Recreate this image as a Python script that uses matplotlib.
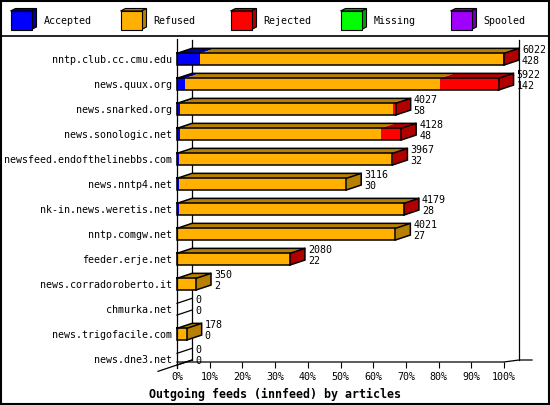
import matplotlib
matplotlib.use("Agg")
import matplotlib.pyplot as plt
from matplotlib.patches import Polygon, Rectangle
import numpy as np

# Data (articles per peer)
hosts = ["nntp.club.cc.cmu.edu", "news.quux.org", "news.snarked.org",
         "news.sonologic.net", "newsfeed.endofthelinebbs.com", "news.nntp4.net",
         "nk-in.news.weretis.net", "nntp.comgw.net", "feeder.erje.net",
         "news.corradoroberto.it", "chmurka.net", "news.trigofacile.com",
         "news.dne3.net"]
offered = [6022, 5922, 4027, 4128, 3967, 3116, 4179, 4021, 2080, 350, 0, 178, 0]
accepted = [428, 142, 58, 48, 32, 30, 28, 27, 22, 2, 0, 0, 0]
refused = [5582, 4700, 3922, 3703, 3926, 3086, 4144, 3994, 2053, 348, 0, 178, 0]
rejected = [12, 1080, 47, 377, 9, 0, 7, 0, 5, 0, 0, 0, 0]
missing = [0, 0, 0, 0, 0, 0, 0, 0, 0, 0, 0, 0, 0]
spooled = [0, 0, 0, 0, 0, 0, 0, 0, 0, 0, 0, 0, 0]

series = ["Accepted", "Refused", "Rejected", "Missing", "Spooled"]
front_colors = ["#0000ff", "#ffb000", "#ff0000", "#00ff00", "#a000ff"]
dark_colors = ["#0000a0", "#b88000", "#b00000", "#00a000", "#7000b0"]
pct_ticks = list(range(0, 101, 10))
title = "Outgoing feeds (innfeed) by articles"

W, H = 550, 405
plt.rcParams["font.family"] = "DejaVu Sans Mono"
plt.rcParams["font.size"] = 7.2

fig = plt.figure(figsize=(W / 100, H / 100), dpi=100)

# background axes in pixel units: frame, legend, title
bg = fig.add_axes([0, 0, 1, 1], zorder=0)
bg.set_xlim(0, W)
bg.set_ylim(H, 0)
bg.axis("off")
bg.add_patch(Rectangle((0.8, 0.8), W - 1.6, H - 1.6, fill=False, ec="black", lw=1.5))
bg.plot([0, W], [36, 36], color="black", lw=1.2)

for k, name in enumerate(series):
    x = 10.5 + 110 * k
    bg.add_patch(Polygon([(x, 11), (x + 21, 11), (x + 26, 8.5), (x + 5, 8.5)],
                         fc=dark_colors[k], ec="black", lw=0.8))
    bg.add_patch(Polygon([(x + 21, 11), (x + 26, 8.5), (x + 26, 27), (x + 21, 29.5)],
                         fc=dark_colors[k], ec="black", lw=0.8))
    bg.add_patch(Rectangle((x, 11), 21, 18.5, fc=front_colors[k], ec="black", lw=0.8))
    bg.text(x + 33, 20.5, name, ha="left", va="center")

fig.text(0.5, 1 - 394 / H, title, ha="center", va="center",
         fontweight="bold", fontsize=8.4)

# main plot axes: x in percent, y in rows (top row = 0)
x0_px, x1_px = 177, 504
top_px, bot_px = 39, 368
row0_px, row_px = 59.2, 25.0
px_x = 100.0 / (x1_px - x0_px)

ax = fig.add_axes([x0_px / W, 1 - bot_px / H, (x1_px - x0_px) / W, (bot_px - top_px) / H],
                  zorder=1)
ax.patch.set_visible(False)
ax.set_xlim(0, 100)
ax.set_ylim((bot_px - row0_px) / row_px, (top_px - row0_px) / row_px)
for s in ["top", "right", "bottom"]:
    ax.spines[s].set_visible(False)
ax.spines["left"].set_linewidth(0.9)

ax.set_xticks(pct_ticks, [f"{t}%" for t in pct_ticks])
ax.tick_params(axis="x", direction="in", length=4.3, width=0.8, pad=3)
ax.set_yticks(range(len(hosts)), hosts)
ax.tick_params(axis="y", length=0, pad=3.6)

dx = 15 * px_x          # depth in percent
dy = 5 / row_px         # depth in rows
h = 5.85 / row_px       # half height of front face
ff = (362 - row0_px) / row_px
fb = (360 - row0_px) / row_px
ytop = ax.get_ylim()[1]
lk = dict(color="black", lw=0.9, clip_on=False, zorder=1)

# walls and floor
ax.plot([dx, dx], [ytop + 0.04, fb], **lk)
ax.plot([100 + dx, 100 + dx], [ytop + 0.04, fb], **lk)
ax.plot([0, 100, 100 + dx, 100 + dx + 13 * px_x], [ff, ff, fb, fb], **lk)
xl = -19 * px_x
ax.plot([xl, dx], [fb + (dx - xl) * dy / dx, fb], **lk)

pct = 100.0 / max(offered)
data = np.array([accepted, refused, rejected, missing, spooled], dtype=float)
ok = dict(color="black", lw=1.1, clip_on=False, zorder=3, solid_joinstyle="miter")
for i in range(len(hosts)):
    edges = np.concatenate([[0], np.cumsum(data[:, i])]) * pct
    yt, yb = i - h, i + h
    end = edges[-1]
    last = None
    for k in range(len(series)):
        a, b = edges[k], edges[k + 1]
        if b <= a:
            continue
        ax.add_patch(Rectangle((a, yt), b - a, 2 * h, fc=front_colors[k], ec="none",
                               clip_on=False, zorder=2))
        ax.add_patch(Polygon([(a, yt), (b, yt), (b + dx, yt - dy), (a + dx, yt - dy)],
                             fc=dark_colors[k], ec="none", clip_on=False, zorder=2))
        last = k
    if last is not None:
        ax.add_patch(Polygon([(end, yt), (end + dx, yt - dy), (end + dx, yb - dy), (end, yb)],
                             fc=dark_colors[last], ec="none", clip_on=False, zorder=2))
        ax.plot([0, end, end, 0, 0], [yt, yt, yb, yb, yt], **ok)
        ax.plot([0, dx, end + dx, end], [yt, yt - dy, yt - dy, yt], **ok)
        ax.plot([end + dx, end + dx, end], [yt - dy, yb - dy, yb], **ok)
    else:
        ax.plot([0, dx], [yt, yt - dy], **lk)
        ax.plot([0, dx], [yb, yb - dy], **lk)
    ax.annotate(str(offered[i]), xy=(end + dx, i), xytext=(3, 9),
                textcoords="offset pixels", ha="left", va="center",
                annotation_clip=False, zorder=4)
    ax.annotate(str(accepted[i]), xy=(end + dx, i), xytext=(3, -1.6),
                textcoords="offset pixels", ha="left", va="center",
                annotation_clip=False, zorder=4)

fig.savefig("out.png", dpi=100)
